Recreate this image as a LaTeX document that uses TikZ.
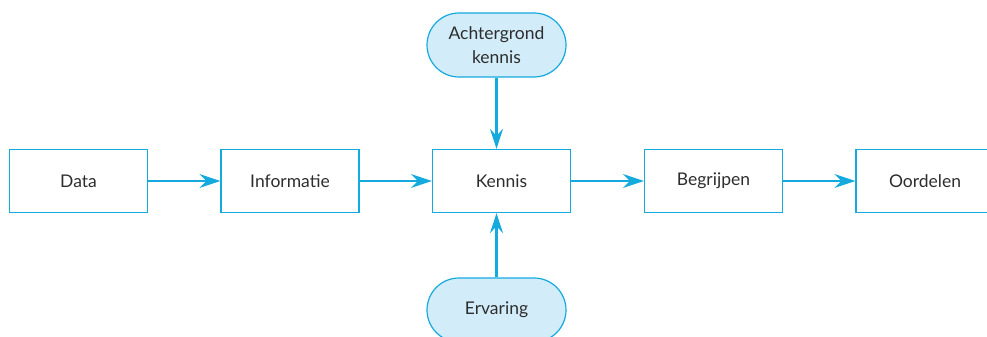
\documentclass[tikz,border=0pt]{standalone}
\usepackage{fontspec}
\setmainfont{Lato}
\usetikzlibrary{arrows.meta,shapes.misc}
\definecolor{lineblue}{RGB}{20,170,222}
\definecolor{pillfill}{RGB}{210,236,250}
\definecolor{txt}{RGB}{45,45,45}
\begin{document}
\begin{tikzpicture}[x=1pt,y=-1pt,
  box/.style={draw=lineblue,line width=1.3pt,minimum width=138pt,minimum height=63pt,inner sep=0pt,text=txt,font=\fontsize{17.5}{20}\selectfont},
  pill/.style={draw=lineblue,fill=pillfill,line width=1.2pt,rounded rectangle,minimum width=139pt,minimum height=64pt,inner sep=0pt,text=txt,align=center,font=\fontsize{17.5}{24}\selectfont},
  harrow/.style={draw=lineblue,line width=1.4pt,-{Stealth[length=21pt,width=14pt,inset=7pt]}},
  varrow/.style={draw=lineblue,line width=2.4pt,-{Stealth[length=20pt,width=13pt,inset=7pt]}}
]
\useasboundingbox (0,0) rectangle (987,337);
\node[box] (data) at (78.5,181) {Data};
\node[box] (info) at (290,181) {Informatie};
\node[box] (kennis) at (501.5,181) {Kennis};
\node[box] (begr) at (713.5,181) {Begrijpen};
\node[box] (oord) at (925,181) {Oordelen};
\node[pill] (acht) at (496.5,45) {Achtergrond\\kennis};
\node[pill] (erv) at (496.5,310) {Ervaring};
\draw[harrow] (data) -- (info);
\draw[harrow] (info) -- (kennis);
\draw[harrow] (kennis) -- (begr);
\draw[harrow] (begr) -- (oord);
\draw[varrow] (acht.south) -- (acht.south |- kennis.north);
\draw[varrow] (erv.north) -- (erv.north |- kennis.south);
\end{tikzpicture}
\end{document}
